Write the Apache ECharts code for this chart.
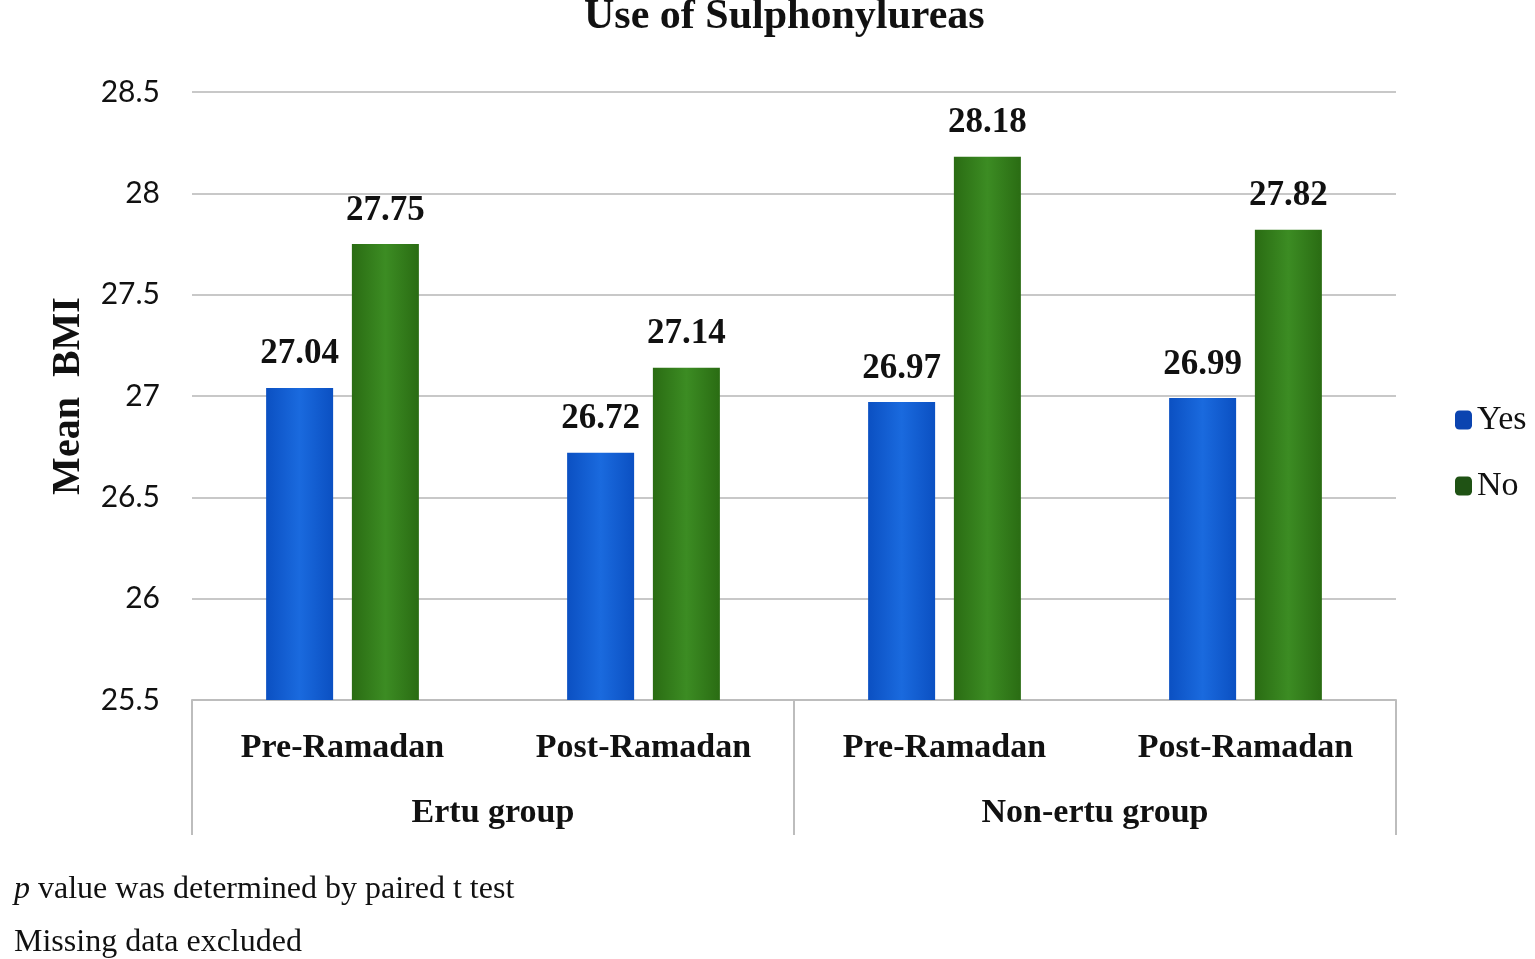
<!DOCTYPE html>
<html><head><meta charset="utf-8">
<script src="https://cdn.jsdelivr.net/npm/echarts@6/dist/echarts.min.js"></script>
<style>html,body{margin:0;padding:0;background:#fff}#c{width:1535px;height:959px}</style>
</head><body><div id="c"></div>
<script>
const categories = ['Pre-Ramadan', 'Post-Ramadan', 'Pre-Ramadan', 'Post-Ramadan'];
const groups = ['Ertu group', 'Non-ertu group'];
const yesValues = [27.04, 26.72, 26.97, 26.99];
const noValues = [27.75, 27.14, 28.18, 27.82];
const seriesNames = ['Yes', 'No'];

const serif = '"Liberation Serif", "DejaVu Serif", serif';
const chart = echarts.init(document.getElementById('c'));
function grad(a, b) {
  return new echarts.graphic.LinearGradient(0, 0, 1, 0, [
    {offset: 0, color: a}, {offset: 0.5, color: b}, {offset: 1, color: a}
  ]);
}
const labelStyle = {show: true, position: 'top', distance: 16, fontFamily: serif, fontWeight: 'bold', fontSize: 35, color: '#111',
  formatter: p => p.value.toFixed(2)};
chart.setOption({
  animation: false,
  title: [
    {text: 'Use of Sulphonylureas', left: 579, top: -9,
      textStyle: {fontFamily: serif, fontWeight: 'bold', fontSize: 42, color: '#111'}},
    {text: '{i|p} value was determined by paired t test', left: 9, top: 869,
      textStyle: {fontFamily: serif, fontWeight: 'normal', fontSize: 32, color: '#111',
        rich: {i: {fontFamily: serif, fontStyle: 'italic', fontSize: 32, color: '#111'}}}},
    {text: 'Missing data excluded', left: 9, top: 922,
      textStyle: {fontFamily: serif, fontWeight: 'normal', fontSize: 32, color: '#111'}}
  ],
  legend: {
    orient: 'vertical', left: 1450, top: 398, itemWidth: 17, itemHeight: 19, itemGap: 32,
    textStyle: {fontFamily: serif, fontSize: 34, color: '#111'},
    data: [
      {name: 'Yes', itemStyle: {color: '#0b44b0'}},
      {name: 'No', itemStyle: {color: '#1f5214'}}
    ]
  },
  grid: {left: 192, right: 139, top: 92, bottom: 259},
  xAxis: [
    {type: 'category', data: categories, position: 'bottom',
      axisLine: {show: true, lineStyle: {color: '#bdbdbd', width: 2}},
      axisTick: {show: false},
      axisLabel: {margin: 31, fontFamily: serif, fontWeight: 'bold', fontSize: 34, color: '#111'}},
    {type: 'category', data: groups, position: 'bottom', gridIndex: 0,
      axisLine: {show: false},
      axisTick: {show: true, length: 135, lineStyle: {color: '#bdbdbd', width: 2}},
      axisLabel: {margin: 96, fontFamily: serif, fontWeight: 'bold', fontSize: 34, color: '#111'}}
  ],
  yAxis: {
    type: 'value', min: 25.5, max: 28.5, interval: 0.5,
    name: 'Mean  BMI', nameLocation: 'middle', nameGap: 103,
    nameTextStyle: {fontFamily: serif, fontWeight: 'bold', fontSize: 40, color: '#111'},
    axisLine: {show: false}, axisTick: {show: false},
    axisLabel: {margin: 32, fontFamily: 'Lato, "Open Sans", sans-serif', fontSize: 30, color: '#111'},
    splitLine: {lineStyle: {color: '#c8c8c8', width: 2}}
  },
  series: [
    {name: seriesNames[0], type: 'bar', data: yesValues, barWidth: 67, barGap: '28%',
      itemStyle: {color: grad('#0b50c2', '#1a6ade')}, label: labelStyle},
    {name: seriesNames[1], type: 'bar', data: noValues, barWidth: 67,
      itemStyle: {color: grad('#2a6c13', '#3c8c23')}, label: labelStyle}
  ]
});
</script></body></html>
